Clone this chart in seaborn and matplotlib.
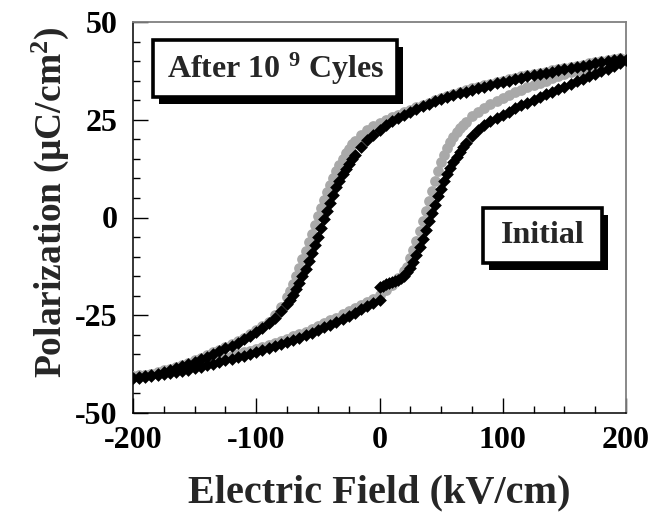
import numpy as np
import pandas as pd
import matplotlib
matplotlib.use("Agg")
import matplotlib.pyplot as plt
import seaborn as sns
from matplotlib.patches import Rectangle
from matplotlib.ticker import MultipleLocator

# ---------------- data ----------------
# Initial (black diamonds): virgin branch 0 -> 200
init_up_E = [0, 2.5, 5, 7.5, 10, 12.5, 15, 17.5, 20, 22.5, 25, 27.5, 30, 32.5, 35, 37.5,
             40, 42.5, 45, 47.5, 50, 52.5, 55, 57.5, 60, 62.5, 65, 67.5, 70, 75, 80, 85,
             90, 95, 100, 105, 110, 115, 120, 125, 130, 135, 140, 145, 150, 155, 160,
             165, 170, 175, 180, 185, 190, 195, 200]
init_up_P = [-17.8, -17.4, -17.1, -16.8, -16.5, -16.2, -15.9, -15.5, -14.9, -14.0, -12.8,
             -11.3, -9.5, -7.5, -5.4, -3.2, -1.0, 1.2, 3.3, 5.4, 7.4, 9.3, 11.0, 12.6,
             14.1, 15.5, 16.8, 18.0, 19.0, 20.9, 22.4, 23.6, 24.6, 25.5, 26.3, 27.1,
             27.9, 28.7, 29.4, 30.1, 30.8, 31.5, 32.2, 32.9, 33.5, 34.2, 34.8, 35.5,
             36.1, 36.8, 37.4, 38.1, 38.8, 39.5, 40.3]
# Initial: descending branch 200 -> -200
init_dn_E = [195, 190, 185, 180, 175, 170, 165, 160, 155, 150, 145, 140, 135, 130, 125,
             120, 115, 110, 105, 100, 95, 90, 85, 80, 75, 70, 65, 60, 55, 50, 45, 40,
             35, 30, 25, 20, 15, 10, 5, 0, -5, -10, -15, -20, -22.5, -25, -27.5, -30,
             -32.5, -35, -37.5, -40, -42.5, -45, -47.5, -50, -52.5, -55, -57.5, -60,
             -62.5, -65, -67.5, -70, -72.5, -75, -80, -85, -90, -95, -100, -105, -110,
             -115, -120, -125, -130, -135, -140, -145, -150, -155, -160, -165, -170,
             -175, -180, -185, -190, -195, -200]
init_dn_P = [40.6, 40.3, 40.0, 39.7, 39.4, 39.1, 38.8, 38.5, 38.2, 37.9, 37.6, 37.3, 37.0,
             36.7, 36.4, 36.1, 35.8, 35.4, 35.0, 34.7, 34.3, 33.9, 33.5, 33.1, 32.7,
             32.2, 31.8, 31.3, 30.8, 30.3, 29.7, 29.1, 28.5, 27.8, 27.1, 26.3, 25.5,
             24.6, 23.6, 22.5, 21.2, 19.7, 18.0, 16.0, 14.9, 13.7, 12.4, 11.0, 9.4, 7.7,
             5.8, 3.7, 1.6, -0.5, -2.7, -4.9, -7.0, -9.1, -11.1, -13.1, -15.0, -16.8,
             -18.4, -19.8, -21.0, -22.1, -24.0, -25.6, -27.0, -28.2, -29.3, -30.3,
             -31.2, -32.0, -32.8, -33.5, -34.2, -34.9, -35.6, -36.3, -36.9, -37.5,
             -38.1, -38.6, -39.1, -39.5, -39.9, -40.3, -40.6, -40.9, -41.1]
# Initial: rising branch -200 -> 0
init_lo_E = [-195, -190, -185, -180, -175, -170, -165, -160, -155, -150, -145, -140, -135,
             -130, -125, -120, -115, -110, -105, -100, -95, -90, -85, -80, -75, -70,
             -65, -60, -55, -50, -45, -40, -35, -30, -25, -20, -15, -10, -5, 0]
init_lo_P = [-41.0, -40.8, -40.6, -40.4, -40.1, -39.8, -39.5, -39.2, -38.9, -38.6, -38.2,
             -37.8, -37.4, -37.0, -36.5, -36.1, -35.7, -35.3, -34.8, -34.4, -33.9,
             -33.4, -32.9, -32.4, -31.9, -31.3, -30.7, -30.1, -29.5, -28.8, -28.1,
             -27.4, -26.6, -25.9, -25.1, -24.3, -23.5, -22.7, -21.9, -21.0]

# After 1e9 cycles (grey circles): rising branch -200 -> 200
aft_up_E = [-200, -195, -190, -185, -180, -175, -170, -165, -160, -155, -150, -145, -140,
            -135, -130, -125, -120, -115, -110, -105, -100, -95, -90, -85, -80, -75,
            -70, -65, -60, -55, -50, -45, -40, -35, -30, -25, -20, -15, -10, -5, 0, 5,
            10, 15, 20, 22.5, 25, 27.5, 30, 32.5, 35, 37.5, 40, 42.5, 45, 47.5, 50,
            52.5, 55, 57.5, 60, 62.5, 65, 67.5, 70, 75, 80, 85, 90, 95, 100, 105, 110,
            115, 120, 125, 130, 135, 140, 145, 150, 155, 160, 165, 170, 175, 180, 185,
            190, 195, 200]
aft_up_P = [-40.6, -40.4, -40.2, -40.0, -39.7, -39.4, -39.1, -38.8, -38.5, -38.2, -37.8,
            -37.4, -37.0, -36.6, -36.2, -35.8, -35.4, -35.0, -34.5, -34.1, -33.6,
            -33.1, -32.6, -32.1, -31.6, -31.0, -30.4, -29.8, -29.2, -28.5, -27.8,
            -27.1, -26.3, -25.6, -24.8, -24.0, -23.2, -22.4, -21.6, -20.8, -19.8,
            -18.6, -17.2, -15.6, -13.8, -12.7, -10.4, -8.2, -5.9, -3.5, -1.0, 1.6, 4.2,
            6.8, 9.4, 11.9, 14.1, 16.1, 17.8, 19.3, 20.6, 21.8, 22.8, 23.7, 24.5,
            25.9, 27.1, 28.1, 29.0, 29.8, 30.6, 31.3, 32.0, 32.7, 33.3, 33.9, 34.5,
            35.0, 35.6, 36.1, 36.6, 37.1, 37.5, 38.0, 38.4, 38.8, 39.2, 39.6, 40.0,
            40.3, 40.6]
# After 1e9 cycles: descending branch 200 -> -200
aft_dn_E = [195, 190, 185, 180, 175, 170, 165, 160, 155, 150, 145, 140, 135, 130, 125,
            120, 115, 110, 105, 100, 95, 90, 85, 80, 75, 70, 65, 60, 55, 50, 45, 40,
            35, 30, 25, 20, 15, 10, 5, 0, -5, -10, -15, -20, -22.5, -25, -27.5, -30,
            -32.5, -35, -37.5, -40, -42.5, -45, -47.5, -50, -52.5, -55, -57.5, -60,
            -62.5, -65, -67.5, -70, -72.5, -75, -80, -85, -90, -95, -100, -105, -110,
            -115, -120, -125, -130, -135, -140, -145, -150, -155, -160, -165, -170,
            -175, -180, -185, -190, -195, -200]
aft_dn_P = [40.9, 40.6, 40.3, 40.0, 39.7, 39.4, 39.1, 38.8, 38.5, 38.2, 37.9, 37.6, 37.3,
            37.0, 36.7, 36.4, 36.1, 35.7, 35.3, 35.0, 34.6, 34.2, 33.8, 33.4, 33.0,
            32.5, 32.1, 31.6, 31.1, 30.6, 30.0, 29.4, 28.8, 28.2, 27.6, 27.0, 26.3,
            25.6, 24.9, 24.2, 23.3, 22.3, 21.1, 19.6, 18.7, 17.6, 16.4, 15.0, 13.5,
            11.9, 10.2, 8.4, 6.5, 4.5, 2.4, 0.3, -1.9, -4.1, -6.3, -8.5, -10.7, -12.9,
            -15.0, -17.0, -18.8, -20.4, -23.0, -25.0, -26.6, -27.8, -28.9, -29.9,
            -30.8, -31.6, -32.4, -33.1, -33.8, -34.5, -35.2, -35.9, -36.5, -37.1,
            -37.7, -38.2, -38.7, -39.1, -39.5, -39.9, -40.2, -40.5, -40.7]

initial = pd.DataFrame({"E": init_up_E + init_dn_E + init_lo_E,
                        "P": init_up_P + init_dn_P + init_lo_P})
after = pd.DataFrame({"E": aft_up_E + aft_dn_E, "P": aft_up_P + aft_dn_P})

# ---------------- style ----------------
sns.set_theme(style="white")
plt.rcParams["font.family"] = ["Liberation Serif", "DejaVu Serif"]
plt.rcParams["font.weight"] = "bold"
plt.rcParams["axes.unicode_minus"] = False
plt.rcParams["mathtext.fontset"] = "custom"
plt.rcParams["mathtext.rm"] = "Liberation Serif:bold"
plt.rcParams["mathtext.bf"] = "Liberation Serif:bold"
plt.rcParams["mathtext.default"] = "rm"

fig = plt.figure(figsize=(6.66, 5.12), dpi=100)
ax = fig.add_axes([133 / 666, 1 - 413 / 512, 493 / 666, 391 / 512])
ax.set_facecolor("white")

sns.scatterplot(data=after, x="E", y="P", ax=ax, marker="o", s=60,
                color="#a9a9a9", linewidth=0, zorder=3, legend=False)
sns.scatterplot(data=initial, x="E", y="P", ax=ax, marker="D", s=42,
                color="black", linewidth=0, zorder=4, legend=False)

ax.set_xlim(-200, 200)
ax.set_ylim(-50, 50)
ax.xaxis.set_major_locator(MultipleLocator(100))
ax.xaxis.set_minor_locator(MultipleLocator(25))
ax.yaxis.set_major_locator(MultipleLocator(25))
ax.yaxis.set_minor_locator(MultipleLocator(5))
ax.tick_params(axis="both", which="both", direction="in", bottom=True, left=True,
               top=False, right=False, colors="black")
ax.tick_params(which="major", length=11, width=1.0, labelsize=23)
ax.tick_params(axis="x", which="major", pad=9)
ax.tick_params(axis="y", which="major", pad=11)
ax.tick_params(which="minor", length=5, width=1.0)
for lab in ax.get_xticklabels() + ax.get_yticklabels():
    lab.set_fontweight("bold")

for side in ["left", "bottom"]:
    ax.spines[side].set_color("black")
    ax.spines[side].set_linewidth(1.1)
for side in ["top", "right"]:
    ax.spines[side].set_color("#808080")
    ax.spines[side].set_linewidth(1.3)

ax.set_xlabel("Electric Field (kV/cm)", fontsize=29, fontweight="bold", labelpad=14)
ax.set_ylabel("Polarization (\u03bcC/cm$^{2}$)", fontsize=27, fontweight="bold")
ax.yaxis.set_label_coords(-0.125, 0.54)

# ---------------- annotation boxes with drop shadow ----------------
def shadow_box(x0, y0, x1, y1, text, fs):
    dx, dy = 6 / 493, -7 / 391
    ax.add_patch(Rectangle((x0 + dx, y0 + dy), x1 - x0, y1 - y0, transform=ax.transAxes,
                           facecolor="black", edgecolor="black", lw=0, zorder=6,
                           clip_on=False))
    ax.add_patch(Rectangle((x0, y0), x1 - x0, y1 - y0, transform=ax.transAxes,
                           facecolor="white", edgecolor="black", lw=2.6, zorder=7,
                           clip_on=False))
    ax.text((x0 + x1) / 2, (y0 + y1) / 2, text, transform=ax.transAxes, ha="center",
            va="center", fontsize=fs, fontweight="bold", zorder=8)

shadow_box(0.0406, 0.808, 0.5355, 0.954, "After 10 $^{9}$ Cyles", 23)
shadow_box(0.7099, 0.3836, 0.9513, 0.5243, "Initial", 23)

fig.savefig("out.png", dpi=100)
